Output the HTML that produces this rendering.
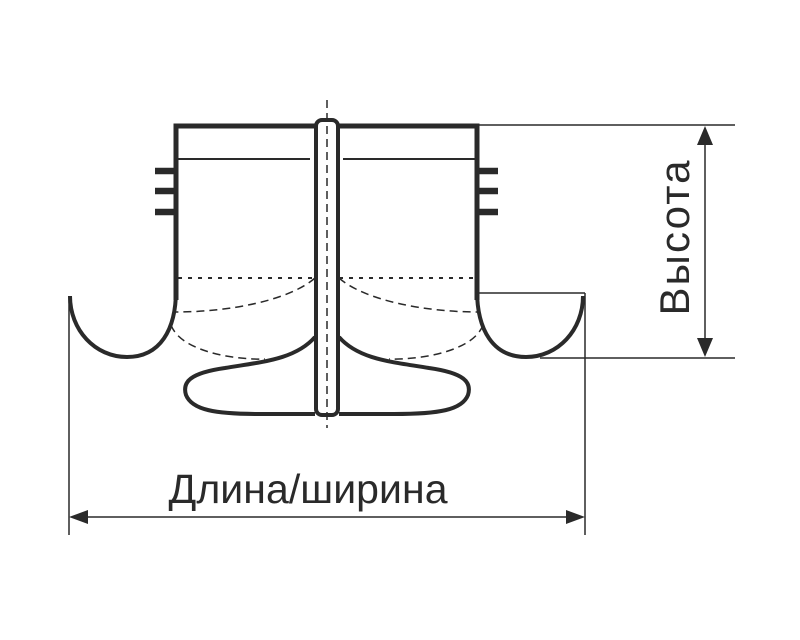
<!DOCTYPE html>
<html><head><style>body{margin:0;background:#fff}svg{display:block}</style></head><body>
<svg width="800" height="640" viewBox="0 0 800 640" xmlns="http://www.w3.org/2000/svg">
<g fill="none" stroke="#2a2a2a">
<path d="M176,300 V126 H477 V300" stroke-width="5"/>
<line x1="178" y1="159" x2="310" y2="159" stroke-width="2"/>
<line x1="343" y1="159" x2="475" y2="159" stroke-width="2"/>
<g stroke-width="6.5">
<line x1="155" y1="171" x2="176" y2="171"/><line x1="155" y1="191" x2="176" y2="191"/><line x1="155" y1="212" x2="176" y2="212"/>
<line x1="477" y1="171" x2="498" y2="171"/><line x1="477" y1="191" x2="498" y2="191"/><line x1="477" y1="212" x2="498" y2="212"/>
</g>
<path d="M176,290 C176,330 160,357 127,357 C95,357 70,330 70,296" stroke-width="4"/>
<path d="M477,290 C477,330 493,357 526,357 C558,357 583,330 583,296" stroke-width="4"/>
<line x1="178" y1="278" x2="315" y2="278" stroke-width="2" stroke-dasharray="4,6"/>
<line x1="339" y1="278" x2="476" y2="278" stroke-width="2" stroke-dasharray="4,6"/>
<path d="M315,278 C290,300 230,312 176,312" stroke-width="1.5" stroke-dasharray="8,5"/>
<path d="M339,278 C364,300 424,312 478,312" stroke-width="1.5" stroke-dasharray="8,5"/>
<path d="M171,325 C180,350 230,360 265,359" stroke-width="1.5" stroke-dasharray="8,5"/>
<path d="M483,325 C474,350 424,360 389,359" stroke-width="1.5" stroke-dasharray="8,5"/>
<path d="M315,337 C295,360 260,362 225,368 C190,373 182,382 186,395 C192,410 215,414 260,414 L315,414" stroke-width="4"/>
<path d="M339,337 C359,360 394,362 429,368 C464,373 472,382 468,395 C462,410 439,414 394,414 L339,414" stroke-width="4"/>
<rect x="316" y="120" width="22" height="295" rx="6" stroke-width="4" fill="#fff"/>
<line x1="327" y1="100" x2="327" y2="428" stroke-width="1.5" stroke-dasharray="8,5"/>
<g stroke-width="1.5">
<line x1="477" y1="125" x2="735" y2="125"/>
<line x1="477" y1="293" x2="585" y2="293"/>
<line x1="540" y1="358" x2="735" y2="358"/>
<line x1="705" y1="140" x2="705" y2="343"/>
<line x1="69" y1="296" x2="69" y2="535"/>
<line x1="585" y1="293" x2="585" y2="535"/>
<line x1="82" y1="517" x2="572" y2="517"/>
</g>
</g>
<g fill="#2a2a2a">
<polygon points="705,126 697,145 713,145"/>
<polygon points="705,357 697,338 713,338"/>
<polygon points="69,517 88,510 88,524"/>
<polygon points="585,517 566,510 566,524"/>
</g>
<text x="308" y="503" text-anchor="middle" font-family="Liberation Sans, sans-serif" font-size="41" textLength="279" fill="#2a2a2a">Длина/ширина</text>
<text transform="translate(689,238) rotate(-90)" text-anchor="middle" font-family="Liberation Sans, sans-serif" font-size="42" textLength="155" fill="#2a2a2a">Высота</text>
</svg>
</body></html>
